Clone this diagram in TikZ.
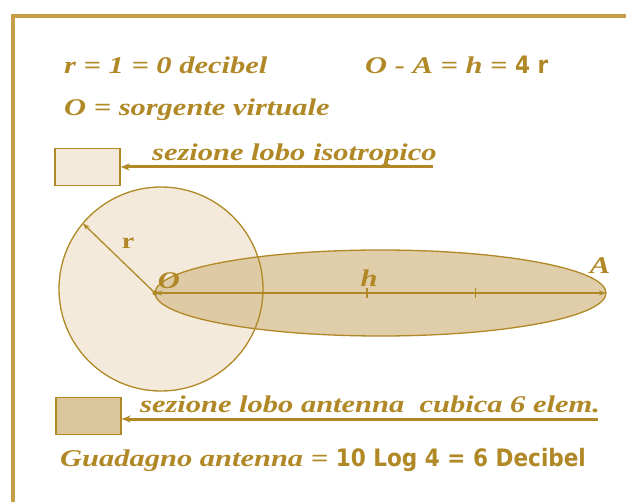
\documentclass[tikz,border=0pt]{standalone}
\usepackage{fontspec}
\setmainfont[FakeStretch=1.27]{Liberation Serif}
\newfontfamily\narrowsf{DejaVu Sans Condensed}
\usetikzlibrary{arrows.meta,calc}
\definecolor{gold}{HTML}{B08826}
\definecolor{frm}{HTML}{C69E48}
\definecolor{iso}{HTML}{F3EADB}
\definecolor{lobe}{HTML}{DBC59B}
\newcommand{\nums}[1]{{\narrowsf\bfseries\upshape #1}}
\tikzset{
  lbl/.style={text=gold,font=\fontsize{24}{26}\selectfont\bfseries\itshape,inner sep=0pt,anchor=base west},
  sbox/.style={draw=gold,line width=1.4pt,minimum width=65pt,minimum height=37pt,inner sep=0pt},
  ar/.style={-{Stealth[length=9pt,width=7pt]},line width=3pt,draw=gold},
  dim/.style={{Stealth[length=7pt,width=5pt]}-{Stealth[length=7pt,width=5pt]},line width=1.3pt,draw=gold},
}

\begin{document}
\begin{tikzpicture}[x=1pt,y=-1pt]
\useasboundingbox (0,0) rectangle (626,502);
\fill[white] (0,0) rectangle (626,502);
\draw[frm,line width=3.5pt] (13,16) rectangle (660,540);
% header lines
\node[lbl] (rdef) at (64,74) {r = 1 = 0 decibel};
\node[lbl] (hdef) at (365,74) {O - A = h = \nums{4 r}};
\node[lbl] (src) at (64,116) {O = sorgente virtuale};
% legend: isotropic lobe
\node[sbox,fill=iso] (isobox) at (87.5,167) {};
\node[lbl] (isotxt) at (152,161) {sezione lobo isotropico};
\coordinate (isoend) at (433,167);
\draw[ar] (isoend) -- (isobox.east |- isoend);
% lobes
\coordinate (O) at (155,293);
\coordinate (A) at (606,293);
\coordinate (C) at (161,289);
\fill[iso] (C) circle (102);
\fill[lobe,fill opacity=0.85] ($(O)!0.5!(A)$) ellipse (225.5 and 43);
\draw[gold,line width=1.3pt] (C) circle (102);
\draw[gold,line width=1.3pt] ($(O)!0.5!(A)$) ellipse (225.5 and 43);
\coordinate (rend) at ($(C)+(220:102)$);
\draw[dim,{Stealth[length=7pt,width=5pt]}-] (rend) -- (O);
\fill[gold] (O) circle (2.6);
\node[lbl,font=\fontsize{22}{24}\selectfont\bfseries\upshape,anchor=center] (rlab) at (128,243) {r};
\draw[dim] (O) -- (A);
\coordinate (t1) at ($(O)!0.47!(A)$);
\coordinate (t2) at ($(O)!0.71!(A)$);
\draw[gold,line width=1.3pt] ($(t1)+(0,-5)$) -- ($(t1)+(0,5)$);
\draw[gold,line width=1.3pt] ($(t2)+(0,-5)$) -- ($(t2)+(0,5)$);
\node[lbl,anchor=south] (olab) at ($(O)+(14,-4)$) {O};
\node[lbl,anchor=south] (hlab) at ($(t1)+(2,-6)$) {h};
\node[lbl,anchor=south] (alab) at ($(A)+(-6,-19)$) {A};
% legend: antenna lobe
\node[sbox,fill=lobe] (antbox) at (88.5,416) {};
\node[lbl] (anttxt) at (140,412) {sezione lobo antenna \ cubica 6 elem.};
\coordinate (antend) at (598,419);
\draw[ar] (antend) -- (antbox.east |- antend);
% gain
\node[lbl] (gain) at (60,466) {Guadagno antenna = \nums{10 Log 4 = 6 Decibel}};
\end{tikzpicture}
\end{document}
